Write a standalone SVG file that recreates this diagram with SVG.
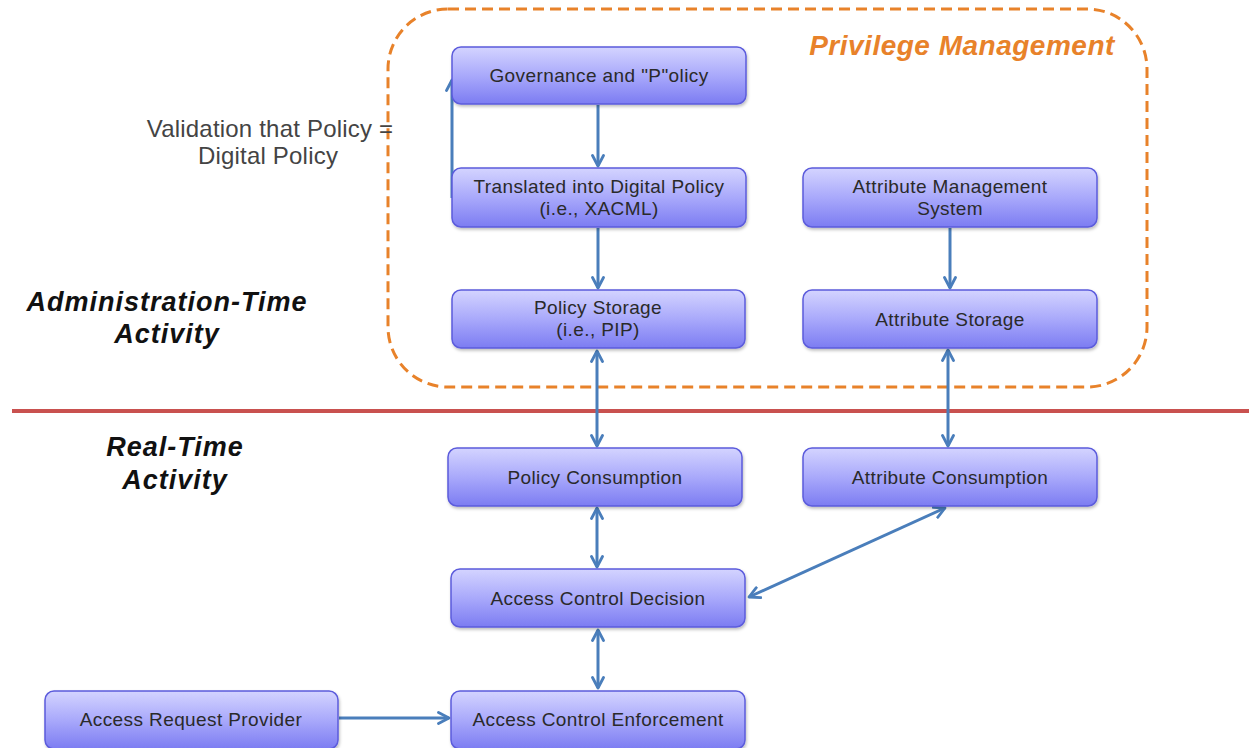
<svg xmlns="http://www.w3.org/2000/svg" width="1249" height="748" viewBox="0 0 1249 748">
<defs>
<linearGradient id="g" x1="0" y1="0" x2="0" y2="1">
<stop offset="0" stop-color="#d4d4ff"/>
<stop offset="0.5" stop-color="#a9a9fb"/>
<stop offset="1" stop-color="#7c7cf2"/>
</linearGradient>
<marker id="ah" viewBox="0 0 14 14" refX="12" refY="7" markerWidth="14" markerHeight="14" markerUnits="userSpaceOnUse" orient="auto-start-reverse">
<path d="M1.5,1.5 L12,7 L1.5,12.5" fill="none" stroke="#4a7ebb" stroke-width="2.8" stroke-linecap="round" stroke-linejoin="round"/>
</marker>
<filter id="sh" x="-5%" y="-10%" width="110%" height="130%">
<feDropShadow dx="1" dy="2" stdDeviation="1.5" flood-color="#000" flood-opacity="0.25"/>
</filter>
</defs>
<style>
.box{fill:url(#g);stroke:#5b5bdc;stroke-width:1.5;filter:url(#sh)}
.t{font-family:"Liberation Sans",Arial,sans-serif;font-size:19px;fill:#2a2a2a;text-anchor:middle;letter-spacing:0.4px}
.c{fill:none;stroke:#4a7ebb;stroke-width:3}
.lbl{font-family:"Liberation Sans",Arial,sans-serif;font-weight:bold;font-style:italic;font-size:27px;fill:#111;text-anchor:middle;letter-spacing:1px}
.val{font-family:"Liberation Sans",Arial,sans-serif;font-size:24px;fill:#444;text-anchor:middle;letter-spacing:0.2px}
</style>
<rect width="1249" height="748" fill="#fff"/>
<rect x="388" y="9" width="759" height="378" rx="60" ry="60" fill="none" stroke="#e8822a" stroke-width="3" stroke-dasharray="11,6"/>
<text x="962" y="55" font-family="Liberation Sans,Arial,sans-serif" font-weight="bold" font-style="italic" font-size="28" fill="#e8822a" text-anchor="middle" letter-spacing="0.5">Privilege Management</text>
<line x1="12" y1="411" x2="1249" y2="411" stroke="#c9514f" stroke-width="4"/>
<text class="val" x="270" y="137">Validation that Policy =</text>
<text class="val" x="268" y="164">Digital Policy</text>
<text class="lbl" x="167" y="311">Administration-Time</text>
<text class="lbl" x="167" y="343">Activity</text>
<text class="lbl" x="175" y="456">Real-Time</text>
<text class="lbl" x="175" y="489">Activity</text>
<g id="connectors">
<line class="c" x1="598" y1="105" x2="598" y2="166" marker-end="url(#ah)"/>
<line class="c" x1="452" y1="198" x2="452" y2="80" marker-end="url(#ah)"/>
<line class="c" x1="598" y1="228" x2="598" y2="288" marker-end="url(#ah)"/>
<line class="c" x1="950" y1="228" x2="950" y2="288" marker-end="url(#ah)"/>
<line class="c" x1="597" y1="351" x2="597" y2="446" marker-start="url(#ah)" marker-end="url(#ah)"/>
<line class="c" x1="948" y1="350" x2="948" y2="446" marker-start="url(#ah)" marker-end="url(#ah)"/>
<line class="c" x1="597" y1="508" x2="597" y2="567" marker-start="url(#ah)" marker-end="url(#ah)"/>
<line class="c" x1="598" y1="630" x2="598" y2="688" marker-start="url(#ah)" marker-end="url(#ah)"/>
<line class="c" x1="945" y1="508" x2="749" y2="597" marker-start="url(#ah)" marker-end="url(#ah)"/>
<line class="c" x1="339" y1="718" x2="449" y2="718" marker-end="url(#ah)"/>
</g>
<g id="governance"><rect class="box" x="452" y="47" width="294" height="57" rx="9"/><text class="t" x="599" y="82">Governance and "P"olicy</text></g>
<g id="translated"><rect class="box" x="452" y="168" width="294" height="59" rx="9"/><text class="t" x="599" y="193">Translated  into Digital Policy</text><text class="t" x="599" y="215">(i.e., XACML)</text></g>
<g id="policy-storage"><rect class="box" x="452" y="290" width="293" height="58" rx="9"/><text class="t" x="598" y="314">Policy Storage</text><text class="t" x="598" y="336">(i.e., PIP)</text></g>
<g id="attr-mgmt"><rect class="box" x="803" y="168" width="294" height="59" rx="9"/><text class="t" x="950" y="193">Attribute Management</text><text class="t" x="950" y="215">System</text></g>
<g id="attr-storage"><rect class="box" x="803" y="290" width="294" height="58" rx="9"/><text class="t" x="950" y="326">Attribute Storage</text></g>
<g id="policy-consumption"><rect class="box" x="448" y="448" width="294" height="58" rx="9"/><text class="t" x="595" y="484">Policy Consumption</text></g>
<g id="attr-consumption"><rect class="box" x="803" y="448" width="294" height="58" rx="9"/><text class="t" x="950" y="484">Attribute Consumption</text></g>
<g id="acd"><rect class="box" x="451" y="569" width="294" height="58" rx="9"/><text class="t" x="598" y="605">Access Control Decision</text></g>
<g id="ace"><rect class="box" x="451" y="691" width="294" height="58" rx="9"/><text class="t" x="598" y="726">Access Control Enforcement</text></g>
<g id="arp"><rect class="box" x="45" y="691" width="293" height="58" rx="9"/><text class="t" x="191" y="726">Access Request Provider</text></g>
</svg>
